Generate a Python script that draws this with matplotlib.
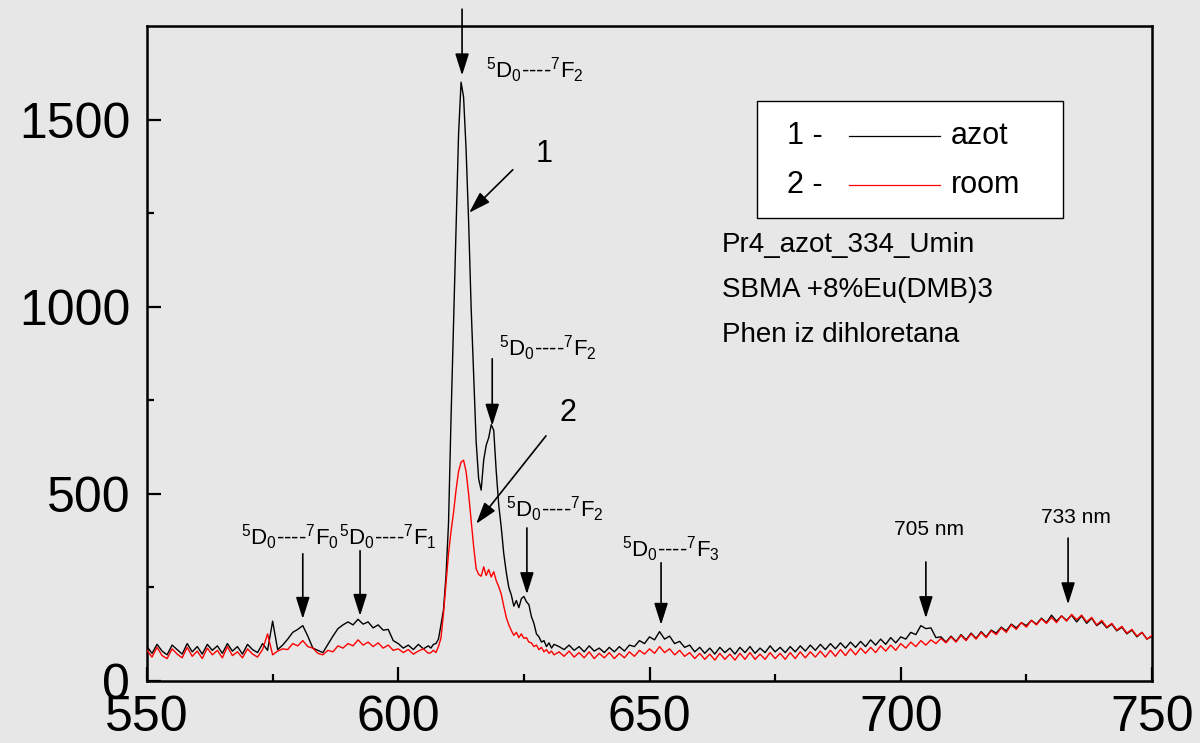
import numpy as np
import matplotlib
matplotlib.use('Agg')
import matplotlib.pyplot as plt
from matplotlib.patches import Rectangle
from matplotlib.lines import Line2D

plt.rcParams['font.family'] = ['Liberation Sans', 'DejaVu Sans']
plt.rcParams['mathtext.fontset'] = 'custom'
plt.rcParams['mathtext.rm'] = 'Liberation Sans'
plt.rcParams['mathtext.default'] = 'regular'

# wavelength grid, nm (finer around the main Eu3+ band)
wl = np.concatenate([np.arange(550, 606.5, 1.0),
                     np.arange(606.5, 631.25, 0.5),
                     np.arange(632, 750.5, 1.0)])

# 1 - azot (liquid nitrogen)
azot = [
    92, 74, 98, 80, 70, 96, 84, 72, 100, 78,          # 550-559
    92, 72, 98, 82, 94, 74, 100, 80, 92, 72,          # 560-569
    98, 84, 76, 100, 82, 160, 84, 96, 112, 130,       # 570-579
    138, 148, 120, 88, 82, 76, 98, 120, 140, 150,     # 580-589
    158, 150, 165, 152, 158, 142, 150, 136, 138, 108,  # 590-599
    100, 88, 96, 84, 98, 86, 94,                      # 600-606
    88, 98, 100, 112, 150, 190, 280, 420, 700, 950,   # 606.5-611
    1200, 1460, 1600, 1560, 1420, 1230, 1000, 820, 640, 540,  # 611.5-616
    510, 590, 630, 650, 685, 670, 560, 470, 410, 340,  # 616.5-621
    290, 250, 230, 200, 215, 196, 220, 226, 212, 204,  # 621.5-626
    172, 154, 126, 118, 104, 108, 92, 102, 88, 98,    # 626.5-631
    92, 84, 96, 82, 92, 78, 94, 80, 88, 76,           # 632-641
    90, 78, 92, 80, 96, 92, 108, 100, 118, 110,       # 642-651
    132, 112, 120, 100, 106, 90, 96, 78, 90, 74,      # 652-661
    88, 72, 90, 76, 88, 72, 90, 76, 92, 74,           # 662-671
    88, 76, 94, 78, 90, 76, 92, 78, 94, 80,           # 672-681
    96, 82, 98, 84, 100, 86, 102, 88, 104, 90,        # 682-691
    106, 92, 110, 96, 112, 98, 116, 102, 118, 112,    # 692-701
    130, 124, 148, 140, 142, 116, 118, 104, 120, 106,  # 702-711
    124, 110, 128, 114, 132, 118, 136, 128, 144, 134,  # 712-721
    152, 142, 156, 148, 162, 152, 168, 156, 176, 160,  # 722-731
    174, 162, 176, 158, 174, 154, 168, 148, 158, 142,  # 732-741
    152, 134, 144, 126, 136, 118, 130, 112, 120,      # 742-750
]

# 2 - room temperature
room = [
    82, 64, 90, 68, 60, 86, 72, 62, 90, 66,           # 550-559
    80, 60, 88, 70, 82, 62, 92, 68, 78, 62,           # 560-569
    86, 72, 64, 84, 126, 70, 80, 86, 84, 100,         # 570-579
    94, 108, 92, 88, 74, 70, 82, 78, 94, 88,          # 580-589
    100, 94, 110, 96, 104, 92, 102, 88, 96, 82,       # 590-599
    86, 76, 84, 72, 80, 86, 74,                       # 600-606
    76, 82, 76, 92, 115, 180, 260, 340, 400, 450,     # 606.5-611
    510, 560, 585, 590, 560, 500, 430, 360, 300, 285,  # 611.5-616
    280, 305, 282, 298, 278, 292, 268, 252, 232, 200,  # 616.5-621
    170, 150, 135, 122, 130, 116, 126, 114, 116, 104,  # 621.5-626
    102, 92, 96, 84, 90, 78, 84, 74, 80, 70,          # 626.5-631
    78, 66, 80, 64, 76, 62, 78, 60, 74, 62,           # 632-641
    76, 60, 74, 62, 78, 66, 82, 72, 86, 74,           # 642-651
    92, 76, 86, 70, 82, 66, 76, 60, 74, 58,           # 652-661
    72, 56, 74, 58, 72, 56, 74, 58, 76, 58,           # 662-671
    72, 58, 76, 60, 74, 58, 76, 60, 78, 62,           # 672-681
    78, 64, 80, 64, 82, 66, 84, 68, 86, 70,           # 682-691
    88, 74, 90, 76, 94, 80, 96, 82, 100, 88,          # 692-701
    104, 92, 108, 96, 110, 100, 114, 102, 118, 104,   # 702-711
    122, 108, 126, 112, 130, 116, 134, 124, 142, 130,  # 712-721
    150, 138, 156, 144, 162, 150, 166, 154, 170, 156,  # 722-731
    174, 160, 178, 164, 176, 158, 170, 150, 162, 144,  # 732-741
    154, 136, 146, 128, 138, 120, 130, 112, 122,      # 742-750
]

term_02 = r'$^{5}$D$_{0}$----$^{7}$F$_{2}$'

# (text, text_x, text_y, arrow_start_x, arrow_start_y, arrow_tip_x, arrow_tip_y, fontsize)
notes = [
    (term_02, 627.2, 1631, 612.7, 1795, 612.7, 1618, 16),
    ('1', 629.0, 1409, 622.8, 1366, 614.1, 1251, 22),
    (term_02, 629.7, 888, 618.7, 861, 618.7, 682, 16),
    ('2', 633.8, 717, 629.4, 655, 615.5, 420, 22),
    (term_02, 631.2, 460, 625.6, 409, 625.6, 232, 16),
    (r'$^{5}$D$_{0}$----$^{7}$F$_{0}$', 578.4, 385, 581.0, 340, 581.0, 166, 16),
    (r'$^{5}$D$_{0}$----$^{7}$F$_{1}$', 597.9, 385, 592.4, 348, 592.4, 174, 16),
    (r'$^{5}$D$_{0}$----$^{7}$F$_{3}$', 654.3, 353, 652.3, 316, 652.3, 150, 16),
    ('705 nm', 705.6, 406, 705.0, 318, 705.0, 168, 15),
    ('733 nm', 734.9, 438, 733.3, 382, 733.3, 205, 15),
]

fig = plt.figure(figsize=(12, 7.43), dpi=100)
fig.patch.set_facecolor('#e7e7e7')
ax = fig.add_axes([0.1225, 0.0834, 0.8375, 0.8816])
ax.set_facecolor('none')

ax.plot(wl, azot, color='black', lw=1.0, zorder=3)
ax.plot(wl, room, color='red', lw=1.0, zorder=4)

ax.set_xlim(550, 750)
ax.set_ylim(0, 1750)
ax.set_xticks([550, 600, 650, 700, 750])
ax.set_xticks([575, 625, 675, 725], minor=True)
ax.set_yticks([0, 500, 1000, 1500])
ax.set_yticks([250, 750, 1250], minor=True)
ax.tick_params(which='both', direction='in', width=1.6, labelsize=36)
ax.tick_params(which='major', length=10)
ax.tick_params(which='minor', length=5)
ax.tick_params(axis='y', pad=12)
ax.tick_params(axis='x', pad=10)
for s in ax.spines.values():
    s.set_linewidth(1.8)

for txt, tx, ty, sx, sy, px, py, fs in notes:
    ax.text(tx, ty, txt, fontsize=fs, ha='center', va='center', zorder=6)
    ax.annotate('', xy=(px, py), xytext=(sx, sy), annotation_clip=False,
                arrowprops=dict(arrowstyle='-|>,head_length=0.95,head_width=0.3',
                                color='black', lw=1.2, mutation_scale=14,
                                shrinkA=0, shrinkB=0), zorder=6)

# legend box drawn by hand, as in the source figure
ax.add_patch(Rectangle((0.607, 0.707), 0.304, 0.178, transform=ax.transAxes,
                       facecolor='white', edgecolor='black', lw=1.0, zorder=7))
for row_y, num, name, col in [(0.832, '1 -', 'azot', 'black'), (0.757, '2 -', 'room', 'red')]:
    ax.text(0.637, row_y, num, transform=ax.transAxes, fontsize=22, va='center', zorder=8)
    ax.add_line(Line2D([0.6985, 0.789], [row_y, row_y], transform=ax.transAxes,
                       color=col, lw=0.9, zorder=8))
    ax.text(0.800, row_y, name, transform=ax.transAxes, fontsize=22, va='center', zorder=8)

for row_y, line in [(0.666, 'Pr4_azot_334_Umin'), (0.597, 'SBMA +8%Eu(DMB)3'),
                    (0.528, 'Phen iz dihloretana')]:
    ax.text(0.572, row_y, line, transform=ax.transAxes, fontsize=20, va='center', zorder=8)

fig.savefig('out.png', dpi=100, facecolor=fig.get_facecolor())
